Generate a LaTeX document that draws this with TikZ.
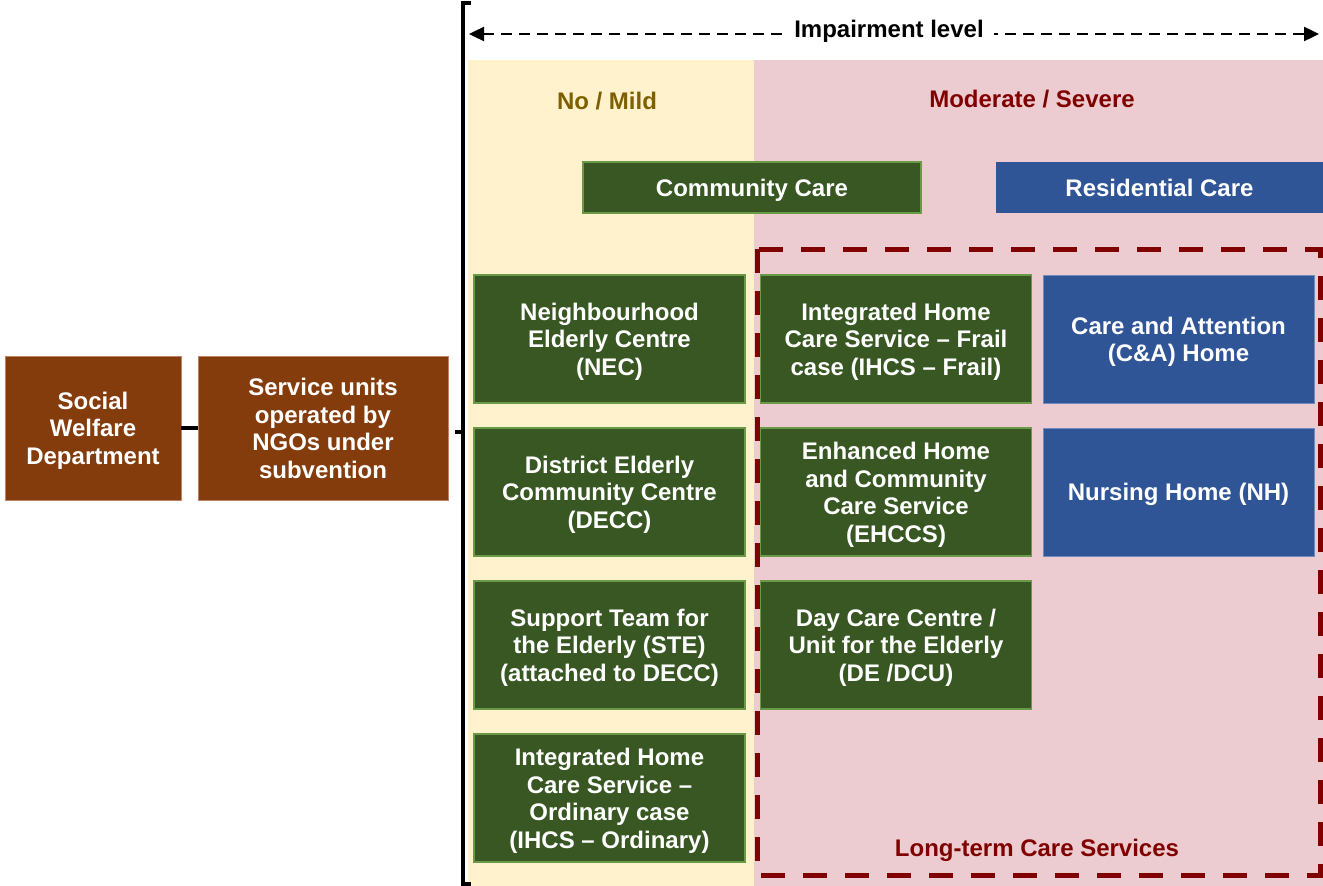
\documentclass[tikz,border=0pt]{standalone}
\usepackage{fontspec}
\setmainfont{Liberation Sans}
\usetikzlibrary{arrows.meta}
\definecolor{cyellow}{RGB}{255,242,204}
\definecolor{cpink}{RGB}{237,204,209}
\definecolor{cgreen}{RGB}{56,87,35}
\definecolor{cgreenb}{RGB}{106,154,72}
\definecolor{cblue}{RGB}{47,85,151}
\definecolor{cblueb}{RGB}{110,140,190}
\definecolor{cbrown}{RGB}{132,60,12}
\definecolor{cbrownb}{RGB}{190,130,100}
\definecolor{colive}{RGB}{127,96,0}
\definecolor{cdred}{RGB}{128,0,0}
\newcommand\tstrut{\rule{0pt}{23.5pt}}
\tikzset{
  txt/.style={font=\bfseries\fontsize{24}{27.5}\selectfont, align=center, inner sep=0pt},
  struts/.style={execute at begin node={\tstrut}, execute at end node={\rule[-6pt]{0pt}{6pt}}},
  box/.style={txt, struts, rectangle, text=white, minimum width=271pt, minimum height=128pt, line width=1.5pt},
  gbox/.style={box, fill=cgreen, draw=cgreenb},
  bbox/.style={box, fill=cblue, draw=cblueb, line width=1pt},
  brbox/.style={box, fill=cbrown, draw=cbrownb, line width=0.8pt, minimum height=144pt},
  hdr/.style={txt, struts, text=white, minimum height=51pt},
  lt/.style={txt},
  bracket/.style={line width=3.2pt, black},
  conn/.style={line width=3.2pt, black},
  ltc/.style={draw=cdred, line width=5pt, dash pattern=on 24pt off 18pt},
  impar/.style={line width=2.4pt, dash pattern=on 11pt off 7pt, {Triangle[length=15pt,width=14pt]}-{Triangle[length=15pt,width=14pt]}}
}
\begin{document}
\begin{tikzpicture}[x=1pt,y=-1pt]
\useasboundingbox (0,0) rectangle (1323,886);
% backgrounds
\fill[cyellow] (468,60) rectangle (754,886);
\fill[cpink] (754,60) rectangle (1323,886);
% long-term care dashed region
\draw[ltc] (757,249) rectangle (1320,875);
% impairment arrow
\coordinate (al) at (469,34);
\coordinate (ar) at (1319,34);
\draw[impar] (al) -- (ar);
\node[lt, fill=white, inner xsep=10pt, inner ysep=3pt] (imp) at (889,31) {Impairment level};
% column labels
\node[lt, text=colive] (mild) at (607,101) {No / Mild};
\node[lt, text=cdred] (mod) at (1032,99) {Moderate / Severe};
% headers
\node[hdr, fill=cgreen, draw=cgreenb, line width=1.5pt, minimum width=338pt] (cc) at (752,187.5) {Community Care};
\node[hdr, fill=cblue, minimum width=327pt] (rc) at (1159.5,187.5) {Residential Care};
% column 1
\node[gbox] (nec) at (609.5,339) {\tstrut Neighbourhood\\Elderly Centre\\(NEC)};
\node[gbox] (decc) at (609.5,492) {\tstrut District Elderly\\Community Centre\\(DECC)};
\node[gbox] (ste) at (609.5,645) {\tstrut Support Team for\\the Elderly (STE)\\(attached to DECC)};
\node[gbox] (ihcso) at (609.5,798) {\tstrut Integrated Home\\Care Service –\\Ordinary case\\(IHCS – Ordinary)};
% column 2
\node[gbox] (ihcsf) at (896,339) {\tstrut Integrated Home\\Care Service – Frail\\case (IHCS – Frail)};
\node[gbox] (ehccs) at (896,492) {\tstrut Enhanced Home\\and Community\\Care Service\\(EHCCS)};
\node[gbox] (de) at (896,645) {\tstrut Day Care Centre /\\Unit for the Elderly\\(DE /DCU)};
% column 3
\node[bbox] (ca) at (1178.5,339) {\tstrut Care and Attention\\(C\&A) Home};
\node[bbox] (nh) at (1178.5,492) {Nursing Home (NH)};
% long-term label
\node[lt, text=cdred] (ltcs) at (1037,850) {Long-term Care Services};
% left boxes
\node[brbox, minimum width=176pt] (swd) at (93,428) {\tstrut Social\\Welfare\\Department};
\node[brbox, minimum width=250pt] (svc) at (323,428) {\tstrut Service units\\operated by\\NGOs under\\subvention};
\draw[conn] (swd.east) -- (svc.west);
% bracket
\coordinate (bt) at (471,3);
\coordinate (bb) at (471,884);
\coordinate (bm) at (463,432);
\coordinate (btick) at (455,432);
\draw[bracket] (bt) -- (463,3) -- (463,884) -- (bb);
\draw[conn] (bm) -- (btick);
\end{tikzpicture}
\end{document}
